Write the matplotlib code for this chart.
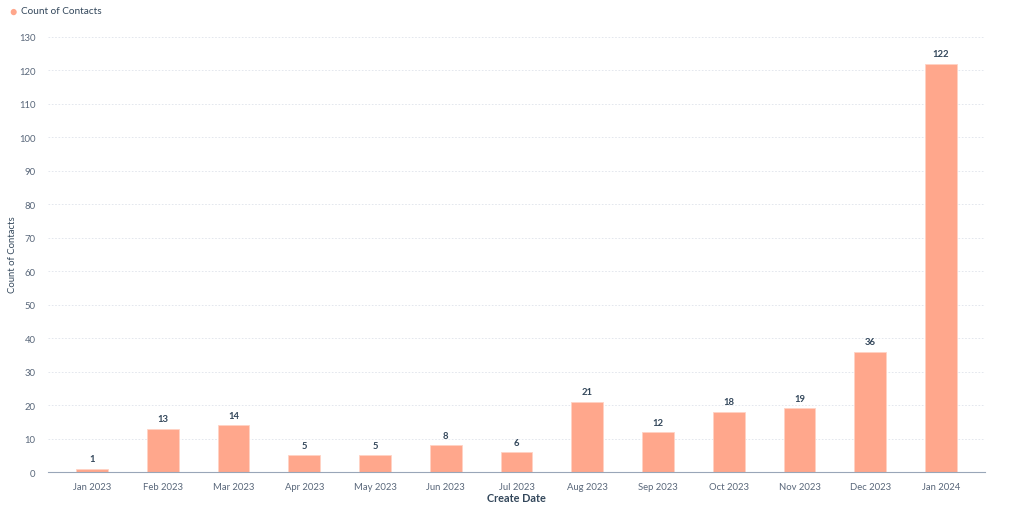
import matplotlib.pyplot as plt

# datos del reporte
meses = ['Jan 2023', 'Feb 2023', 'Mar 2023', 'Apr 2023', 'May 2023', 'Jun 2023',
         'Jul 2023', 'Aug 2023', 'Sep 2023', 'Oct 2023', 'Nov 2023', 'Dec 2023', 'Jan 2024']
contactos = [1, 13, 14, 5, 5, 8, 6, 21, 12, 18, 19, 36, 122]
ticks_y = list(range(0, 131, 10))

plt.rcParams['font.family'] = ['Lato', 'DejaVu Sans']

color_barra = '#ffa78c'
texto_oscuro = '#33475b'
texto_gris = '#59677a'

fig = plt.figure(figsize=(10.24, 5.1), dpi=100)
ax = fig.add_axes([0.0469, 0.0725, 0.915, 0.853])

x = range(len(meses))
ax.bar(x, contactos, width=0.45, color=color_barra,
       edgecolor='#ffd3c4', linewidth=0.6, zorder=3)

for xi, v in zip(x, contactos):
    ax.text(xi, v + 1.6, str(v), ha='center', va='bottom', fontsize=6.8,
            fontweight='bold', color=texto_oscuro)

ax.set_xlim(-0.62, len(meses) - 1 + 0.62)
ax.set_ylim(0, 130)
ax.set_yticks(ticks_y)
ax.set_xticks(list(x))
ax.set_xticklabels(meses)
ax.tick_params(axis='both', length=0, labelsize=6.8, colors=texto_gris)
ax.tick_params(axis='y', pad=9)
ax.tick_params(axis='x', pad=7)

ax.grid(axis='y', color='#dfe3eb', linestyle=(0, (2, 2)), linewidth=0.6, zorder=0)
for lado in ['top', 'right', 'left']:
    ax.spines[lado].set_visible(False)
ax.spines['bottom'].set_color('#99a6b8')
ax.spines['bottom'].set_linewidth(0.8)
ax.spines['bottom'].set_zorder(4)

ax.set_xlabel('Create Date', fontsize=7.8, fontweight='bold', color=texto_oscuro, labelpad=1)
fig.text(0.0125, 0.5, 'Count of Contacts', rotation=90, fontsize=6.8,
         color=texto_oscuro, ha='center', va='center')

# leyenda simple arriba a la izquierda
fig.text(0.0127, 0.977, '\u25cf', color=color_barra, fontsize=9, ha='center', va='center')
fig.text(0.0205, 0.977, 'Count of Contacts', color=texto_oscuro, fontsize=7.2, ha='left', va='center')

plt.savefig('out.png', dpi=100)
plt.close()
